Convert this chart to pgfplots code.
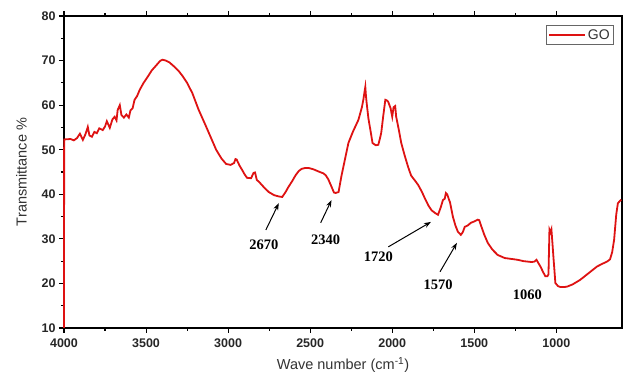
\documentclass[border=0pt]{standalone}
\usepackage{fontspec}
\setmainfont{Liberation Serif}
\newfontfamily\arial{Liberation Sans}
\usepackage{pgfplots}
\pgfplotsset{compat=1.18}
\usetikzlibrary{arrows.meta}
\definecolor{spec}{RGB}{222,18,18}
\begin{document}
\begin{tikzpicture}
\begin{axis}[
  scale only axis,
  width=558pt, height=312pt,
  x dir=reverse,
  xmin=600, xmax=4000, ymin=10, ymax=80,
  xtick={1000,1500,...,4000},
  ytick={10,20,...,80},
  minor x tick num=1, minor y tick num=1,
  tick align=outside,
  xtick pos=both, ytick pos=left,
  major tick length=5pt, minor tick length=3pt,
  every tick/.style={black, line width=1.1pt},
  axis line style={line width=1.2pt},
  /pgf/number format/assume math mode=true,
  /pgf/number format/1000 sep={},
  tick label style={font=\arial\bfseries\fontsize{12.5}{12.5}\selectfont, text=black!85},
  xticklabel style={yshift=-2pt},
  xlabel={\arial Wave number (cm\textsuperscript{-1})},
  ylabel={\arial Transmittance \%},
  label style={font=\arial\fontsize{14.5}{14.5}\selectfont, text=black!80},
  xlabel style={yshift=-3pt},
  ylabel style={yshift=8pt},
  legend style={at={(0.985,0.97)}, anchor=north east, draw=black!60, line width=0.8pt,
    font=\arial\fontsize{14}{14}\selectfont, text=black!80, inner sep=1.5pt, row sep=0pt},
  legend cell align=left,
  legend image code/.code={\draw[spec, line width=1.8pt] (0pt,0pt) -- (36pt,0pt);},
  clip=false,
]
\addplot[spec, line width=1.8pt] coordinates {
(4000,10) (3999,52.3) (3960,52.4) (3940,52.1) (3921,52.6) (3903,53.6) (3885,52.2)
(3870,53.4) (3855,55.1) (3845,53.2) (3830,52.9) (3815,54.0) (3800,53.7) (3785,54.8)
(3764,54.4) (3750,55.2) (3739,56.4) (3721,54.9) (3705,56.8) (3691,57.4) (3680,56.6)
(3673,58.9) (3660,60.0) (3650,57.8) (3635,57.2) (3620,57.9) (3605,57.2) (3595,58.8)
(3582,59.3) (3570,61.2) (3555,62.0) (3539,63.4) (3515,65.0) (3491,66.3) (3465,67.8)
(3436,69.0) (3415,69.9) (3400,70.2) (3380,70.0) (3358,69.6) (3327,68.6) (3300,67.6)
(3279,66.6) (3250,65.0) (3218,62.7) (3180,59.0) (3133,55.1) (3100,52.3) (3073,50.0)
(3040,48.0) (3012,46.8) (2985,46.6) (2964,47.0) (2955,47.9) (2948,47.8) (2930,46.4)
(2915,45.5) (2900,44.5) (2885,43.7) (2860,43.6) (2845,44.8) (2836,44.9) (2825,43.2)
(2812,42.8) (2780,41.5) (2752,40.5) (2720,39.8) (2690,39.5) (2670,39.4) (2650,40.5)
(2630,41.8) (2612,42.8) (2590,44.2) (2570,45.2) (2552,45.7) (2530,45.9) (2509,45.9)
(2480,45.6) (2448,45.1) (2420,44.7) (2406,44.3) (2390,43.4) (2370,41.7) (2355,40.4)
(2345,40.3) (2327,40.5) (2310,44) (2290,47.5) (2267,51.5) (2240,54.0) (2206,56.7)
(2185,59.5) (2176,61.2) (2168,63.2) (2164,64.1) (2160,62.0) (2155,60.2) (2145,57.0)
(2133,54.4) (2120,51.5) (2100,51.0) (2085,51.1) (2075,52.5) (2067,53.8) (2055,57.5)
(2042,61.2) (2030,61.0) (2024,60.7) (2010,59.3) (2000,57.4) (1992,59.5) (1982,59.8)
(1976,57.4) (1960,54.5) (1945,51.5) (1925,48.8) (1903,46.1) (1885,44.2) (1860,43.0)
(1842,42.1) (1820,40.6) (1800,39.0) (1780,37.5) (1760,36.4) (1739,35.8) (1721,35.4)
(1705,37.0) (1691,38.7) (1680,39.0) (1673,40.3) (1665,40.0) (1655,38.9) (1648,38.2)
(1630,34.9) (1615,33.0) (1600,31.6) (1582,30.9) (1570,31.5) (1558,32.7) (1540,33.0)
(1521,33.6) (1500,33.9) (1479,34.3) (1470,34.2) (1461,33.2) (1440,31.0) (1418,29.1)
(1390,27.6) (1358,26.4) (1315,25.7) (1275,25.5) (1236,25.3) (1200,25.0) (1176,24.9)
(1150,24.8) (1133,24.9) (1121,25.3) (1110,24.6) (1097,23.8) (1080,22.5) (1067,21.6)
(1055,21.6) (1048,22.0) (1042,32.1) (1035,31.5) (1030,32.1) (1024,29.1) (1018,26)
(1012,23.1) (1006,20.1) (990,19.4) (976,19.2) (950,19.2) (933,19.3) (900,19.8)
(855,20.8) (800,22.4) (752,23.8) (720,24.4) (691,24.9) (673,25.4) (660,27.0)
(648,29.8) (635,35.5) (625,38.0) (605,38.8)
};
\addlegendentry{GO}
\draw[-{Stealth[length=7pt,width=5pt]}, line width=1pt] (axis cs:2770,32) -- (axis cs:2691,38);
\draw[-{Stealth[length=7pt,width=5pt]}, line width=1pt] (axis cs:2436,33.6) -- (axis cs:2370,38.7);
\draw[-{Stealth[length=7pt,width=5pt]}, line width=1pt] (axis cs:2024,28.2) -- (axis cs:1764,33.8);
\draw[-{Stealth[length=7pt,width=5pt]}, line width=1pt] (axis cs:1709,22.6) -- (axis cs:1606,29.1);
\node[font=\bfseries\fontsize{14.5}{14.5}\selectfont] at (axis cs:2782,28.7) {2670};
\node[font=\bfseries\fontsize{14.5}{14.5}\selectfont] at (axis cs:2406,29.8) {2340};
\node[font=\bfseries\fontsize{14.5}{14.5}\selectfont] at (axis cs:2085,26) {1720};
\node[font=\bfseries\fontsize{14.5}{14.5}\selectfont] at (axis cs:1721,19.7) {1570};
\node[font=\bfseries\fontsize{14.5}{14.5}\selectfont] at (axis cs:1176,17.4) {1060};
\end{axis}
\path (current axis.south west) ++(-64pt,-47pt) coordinate (bl);
\path (current axis.north east) ++(1pt,16pt) coordinate (tr);
\path (bl) rectangle (tr);
\end{tikzpicture}
\end{document}
